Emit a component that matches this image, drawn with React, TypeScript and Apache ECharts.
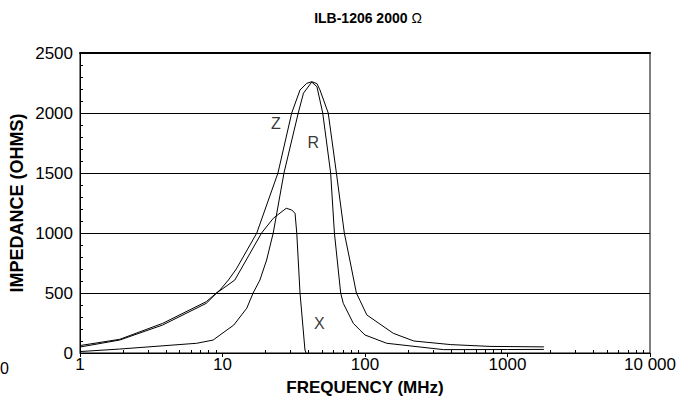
import React, { useEffect, useRef } from "react";
import * as echarts from "echarts";

// Impedance |Z| (ohms) vs frequency (MHz)
const zFreq = [1, 1.9, 3.8, 7.7, 9.6, 11, 12.5, 17.4, 24.5, 30.6, 35, 39, 42.3, 46, 48.3, 55.2, 63, 71.6, 79, 87, 92, 103, 158, 220, 400, 754, 1800];
const zImp = [62, 114, 247, 428, 525, 608, 700, 1000, 1500, 2000, 2192, 2247, 2261, 2245, 2192, 2000, 1500, 1000, 750, 500, 440, 317, 164, 100, 70, 55, 51];

// Resistance R (ohms)
const rFreq = [1, 1.9, 6.6, 8.6, 9.6, 12, 14.8, 16.4, 18.3, 20.4, 22.7, 27, 34, 37, 42.3, 46, 50.5, 57.4, 61, 67.5, 70.4, 82.8, 92, 100, 142, 355, 1000, 1800];
const rImp = [12, 33, 81, 108, 150, 233, 373, 500, 608, 775, 1000, 1500, 2000, 2165, 2258, 2219, 2000, 1500, 1000, 500, 414, 247, 192, 150, 81, 28, 29, 30];

// Reactance X (ohms)
const xFreq = [1, 1.9, 3.8, 7.7, 9.1, 12.2, 18.8, 22.7, 28, 30.6, 32.3, 33.2, 35, 37.9, 38.6];
const xImp = [50, 108, 233, 414, 500, 608, 1000, 1122, 1206, 1192, 1164, 1000, 500, 25, 0];

// Curve name labels (placed in data coordinates)
const curveNames = ["Z", "R", "X"];
const curveNameFreq = [23.7, 43.4, 47.8];
const curveNameImp = [1914, 1752, 247];

const minorFreqTicks = [2, 3, 4, 5, 6, 7, 8, 9, 20, 30, 40, 50, 60, 70, 80, 90, 200, 300, 400, 500, 600, 700, 800, 900, 2000, 3000, 4000, 5000, 6000, 7000, 8000, 9000];

const titleMain = "ILB-1206 2000 ";
const titleUnit = "Ω";
const xName = "FREQUENCY (MHz)";
const yName = "IMPEDANCE (OHMS)";

const FONT = "'Liberation Sans', Arial, Helvetica, sans-serif";

const pairs = (f: number[], v: number[]) => f.map((x, i) => [x, v[i]]);

export default function App() {
  const ref = useRef<HTMLDivElement>(null);
  useEffect(() => {
    if (!ref.current) return;
    const chart = echarts.init(ref.current, undefined, { renderer: "svg" });
    const lineStyle = { color: "#000", width: 1 };
    const lineSeries = (name: string, data: number[][]) => ({
      name,
      type: "line",
      data,
      showSymbol: false,
      symbol: "none",
      smooth: false,
      lineStyle,
      z: 3,
    });
    chart.setOption({
      animation: false,
      backgroundColor: "#fff",
      grid: {
        left: 80,
        right: 35,
        top: 53,
        bottom: 49,
        show: true,
        borderColor: "#000",
        borderWidth: 1,
        backgroundColor: "transparent",
      },
      xAxis: [
        {
          type: "log",
          logBase: 10,
          min: 1,
          max: 10000,
          position: "bottom",
          axisLine: { lineStyle: { color: "#000", width: 1 } },
          axisTick: { show: true, length: 4, lineStyle: { color: "#000" } },
          axisLabel: {
            color: "#000",
            fontSize: 17,
            fontFamily: FONT,
            margin: 3,
            formatter: (v: number) => (v === 10000 ? "10 000" : String(v)),
          },
          splitLine: { show: false },
          name: xName,
          nameLocation: "middle",
          nameGap: 26,
          nameTextStyle: { color: "#000", fontSize: 17, fontWeight: "bold", fontFamily: FONT },
        },
        {
          type: "log",
          logBase: 10,
          min: 1,
          max: 10000,
          position: "bottom",
          axisLine: { show: false },
          axisTick: {
            show: true,
            inside: true,
            length: 3,
            customValues: minorFreqTicks,
            lineStyle: { color: "#000" },
          },
          axisLabel: { show: false },
          splitLine: { show: false },
        },
        {
          type: "log",
          logBase: 10,
          min: 1,
          max: 10000,
          position: "top",
          axisLine: { show: true, lineStyle: { color: "#000", width: 2 } },
          axisTick: { show: false },
          axisLabel: { show: false },
          splitLine: { show: false },
        },
      ],
      yAxis: {
        type: "value",
        min: 0,
        max: 2500,
        interval: 500,
        axisLine: { show: true, lineStyle: { color: "#000", width: 1 } },
        axisTick: { show: true, inside: true, length: 3, lineStyle: { color: "#000" } },
        minorTick: { show: true, splitNumber: 5, length: 3, lineStyle: { color: "#000" } },
        axisLabel: {
          color: "#000",
          fontSize: 17,
          fontFamily: FONT,
          margin: 7,
          formatter: (v: number) => String(v),
        },
        splitLine: { show: true, lineStyle: { color: "#000", width: 1 } },
      },
      graphic: [
        {
          type: "text",
          x: 368,
          y: 18,
          style: {
            text: `{b|${titleMain}}{o|${titleUnit}}`,
            textAlign: "center",
            textVerticalAlign: "middle",
            rich: {
              b: { fontFamily: FONT, fontWeight: "bold", fontSize: 14, fill: "#000" },
              o: { fontFamily: FONT, fontWeight: "normal", fontSize: 14, fill: "#000" },
            },
          },
        },
        {
          type: "text",
          x: 17,
          y: 203,
          rotation: Math.PI / 2,
          style: {
            text: yName,
            fontFamily: FONT,
            fontWeight: "bold",
            fontSize: 18,
            fill: "#000",
            textAlign: "center",
            textVerticalAlign: "middle",
          },
        },
        {
          type: "text",
          x: 0,
          y: 368,
          style: {
            text: "0",
            fontFamily: FONT,
            fontSize: 16,
            fill: "#000",
            textAlign: "left",
            textVerticalAlign: "middle",
          },
        },
      ],
      series: [
        lineSeries("Z", pairs(zFreq, zImp)),
        lineSeries("R", pairs(rFreq, rImp)),
        lineSeries("X", pairs(xFreq, xImp)),
        {
          type: "scatter",
          symbolSize: 0,
          silent: true,
          z: 4,
          data: curveNames.map((n, i) => ({ name: n, value: [curveNameFreq[i], curveNameImp[i]] })),
          label: {
            show: true,
            position: "inside",
            formatter: (p: any) => p.name,
            color: "#000",
            fontSize: 16,
            fontFamily: FONT,
          },
        },
      ],
    });
    return () => chart.dispose();
  }, []);
  return (
    <div
      ref={ref}
      style={{ position: "fixed", left: 0, top: 0, width: 685, height: 402, background: "#fff" }}
    />
  );
}
